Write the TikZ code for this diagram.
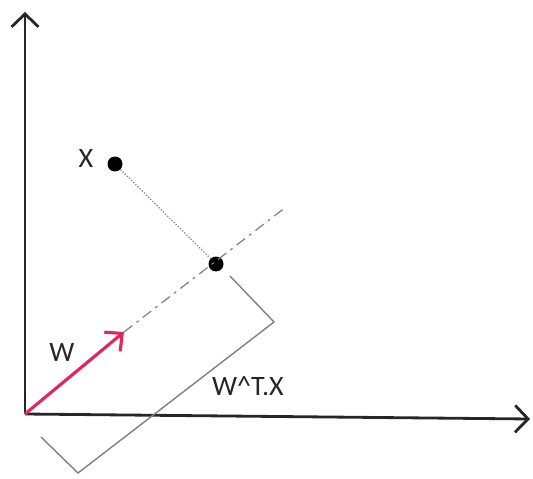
\documentclass[tikz,border=0pt]{standalone}
\usepackage{fontspec}
\setmainfont{Carlito}
\usetikzlibrary{arrows.meta}
\definecolor{wpink}{RGB}{222,40,96}

\begin{document}
\begin{tikzpicture}[
    x=0.02cm, y=-0.02cm,
    axis line/.style={line width=1.6pt, black!85, -{Straight Barb[length=2.6mm, width=5.4mm, line width=1.6pt]}},
    wvec/.style={line width=1.8pt, wpink, -{Straight Barb[length=2.6mm, width=5mm, line width=1.8pt]}},
    dot node/.style={circle, fill=black, inner sep=0pt, minimum size=0.30cm},
    label text/.style={font=\fontsize{16}{18}\selectfont, text=black!85}
]
    \useasboundingbox (0,0) rectangle (533,479);

    % --- axes ---
    \coordinate (O) at (25,414);
    \coordinate (YEnd) at (25,12);
    \coordinate (XEnd) at (530,419);
    \draw[axis line] (O) -- (YEnd);
    \draw[axis line] (O) -- (XEnd);

    % --- points ---
    \node[dot node] (X) at (115,164) {};
    \node[dot node] (P) at (216,264) {};
    \coordinate (WTip) at (124,332);
    \coordinate (DashEnd) at (286,207);

    % --- direction of W and projection ---
    \draw[gray, line width=0.7pt, dash pattern=on 6pt off 3pt on 1.5pt off 3pt] (WTip) -- (DashEnd);
    \draw[gray, line width=0.7pt, densely dotted] (X) -- (P);
    \draw[wvec] (O) -- (WTip);

    % --- bracket for W^T.X ---
    \coordinate (B1) at (230,276);
    \coordinate (B2) at (274,322);
    \coordinate (B3) at (78,473);
    \coordinate (B4) at (41,437);
    \draw[gray, line width=0.8pt] (B1) -- (B2) -- (B3) -- (B4);

    % --- labels ---
    \node[label text] (XLabel) at (86,158) {X};
    \node[label text] (WLabel) at (62,352) {W};
    \node[label text] (WTXLabel) at (248,386) {W\textasciicircum T.X};
\end{tikzpicture}
\end{document}
